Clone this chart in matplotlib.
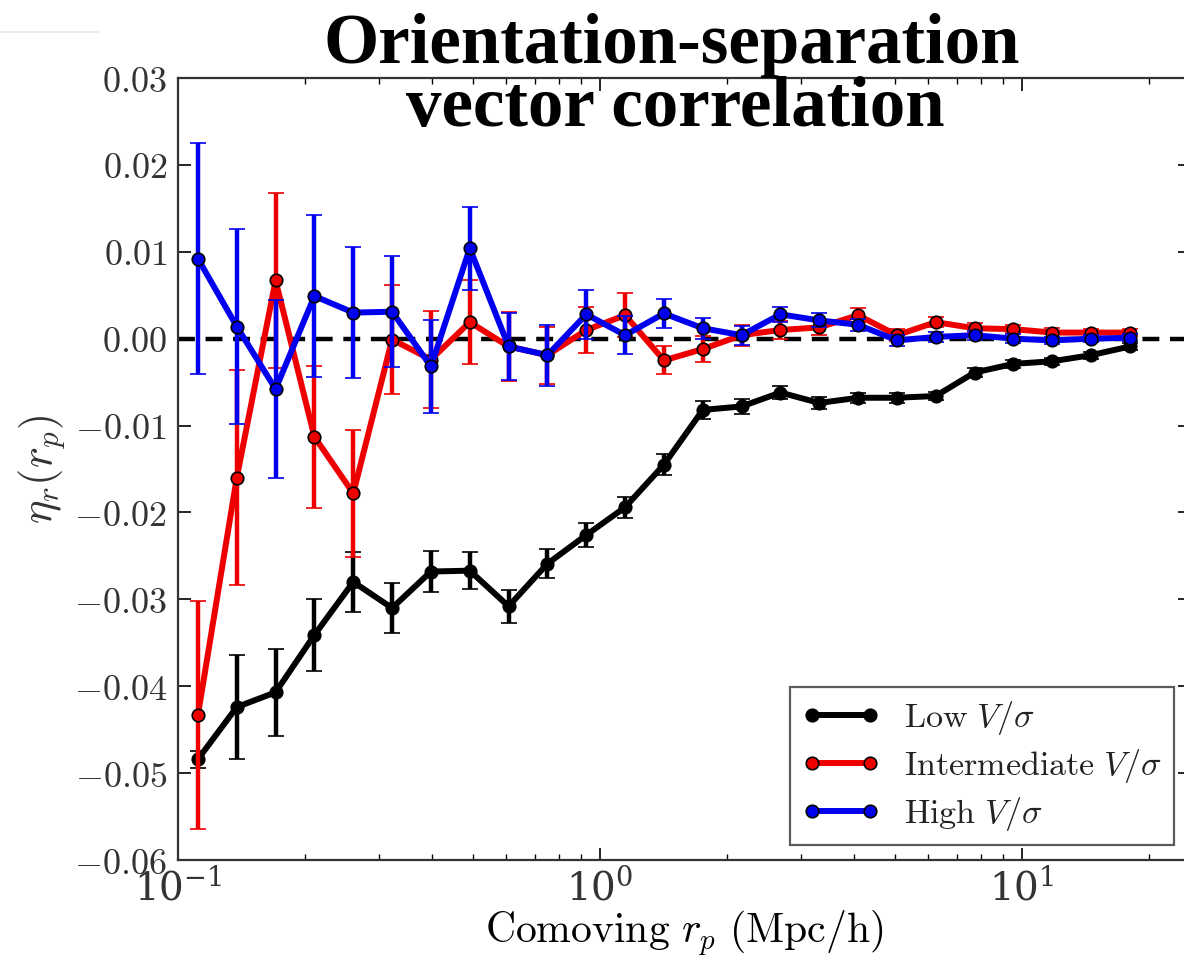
import matplotlib
matplotlib.use("Agg")
import matplotlib.pyplot as plt
from matplotlib.ticker import FuncFormatter, MultipleLocator
from matplotlib.lines import Line2D

plt.rcParams['mathtext.fontset'] = 'cm'
plt.rcParams['font.family'] = ['DejaVu Serif']

# ---------------- data ----------------
r_p = [0.1115, 0.1378, 0.1703, 0.2105, 0.2602, 0.3216, 0.3975, 0.4913, 0.6072,
       0.7505, 0.9278, 1.1467, 1.4173, 1.7518, 2.1652, 2.676, 3.307, 4.087,
       5.051, 6.243, 7.716, 9.537, 11.79, 14.57, 18.01]

low_eta = [-0.0484, -0.0424, -0.0407, -0.0341, -0.0280, -0.0310, -0.0268, -0.0267,
           -0.0308, -0.0259, -0.0226, -0.0194, -0.0145, -0.0082, -0.0078, -0.0062,
           -0.0074, -0.0068, -0.0068, -0.0066, -0.0039, -0.0029, -0.0026, -0.0019,
           -0.0009]
low_err = [0.0010, 0.0060, 0.0050, 0.0041, 0.0035, 0.0029, 0.0024, 0.0021, 0.0019,
           0.0017, 0.0014, 0.0012, 0.0012, 0.0010, 0.0009, 0.0008, 0.0007, 0.0006,
           0.0006, 0.0005, 0.0005, 0.0005, 0.0004, 0.0004, 0.0004]

int_eta = [-0.0433, -0.0160, 0.0067, -0.0113, -0.0178, -0.0001, -0.0024, 0.0019,
           -0.0009, -0.0019, 0.0010, 0.0027, -0.0025, -0.0012, 0.0004, 0.0010,
           0.0013, 0.0027, 0.0004, 0.0019, 0.0012, 0.0011, 0.0007, 0.0007, 0.0007]
int_err = [0.0131, 0.0124, 0.0101, 0.0082, 0.0073, 0.0063, 0.0056, 0.0048, 0.0040,
           0.0033, 0.0027, 0.0025, 0.0016, 0.0015, 0.0012, 0.0010, 0.0009, 0.0008,
           0.0007, 0.0006, 0.0006, 0.0005, 0.0005, 0.0004, 0.0004]

high_eta = [0.0092, 0.0014, -0.0058, 0.0049, 0.0030, 0.0031, -0.0032, 0.0104,
            -0.0009, -0.0019, 0.0028, 0.0004, 0.0029, 0.0012, 0.0004, 0.0028,
            0.0021, 0.0016, -0.0002, 0.0002, 0.0004, 0.0000, -0.0002, 0.0000, 0.0001]
high_err = [0.0133, 0.0112, 0.0102, 0.0093, 0.0075, 0.0064, 0.0054, 0.0048, 0.0039,
            0.0035, 0.0028, 0.0022, 0.0017, 0.0012, 0.0011, 0.0009, 0.0008, 0.0007,
            0.0006, 0.0006, 0.0005, 0.0005, 0.0004, 0.0004, 0.0004]

labels = [r'$\mathrm{Low}\ V/\sigma$', r'$\mathrm{Intermediate}\ V/\sigma$',
          r'$\mathrm{High}\ V/\sigma$']
colors = ['black', '#ee0000', '#0000ee']

title_lines = ["Orientation-separation", "vector correlation"]
xlabel = r'$\mathrm{Comoving}\ r_p\ \mathrm{(Mpc/h)}$'
ylabel = r'$\eta_r(r_p)$'

# ---------------- figure ----------------
W, H = 1184, 958
fig = plt.figure(figsize=(W / 100, H / 100), dpi=100)
ax = fig.add_axes([178 / W, 1 - 860 / H, 1012 / W, (860 - 78) / H])

ax.axhline(0, color='black', lw=3.2, ls=(0, (3.8, 2.4)), zorder=1)

series = [(low_eta, low_err), (int_eta, int_err), (high_eta, high_err)]
handles = []
for k, ((y, e), lab, c) in enumerate(zip(series, labels, colors)):
    mec = 'black' if k else c
    ax.errorbar(r_p, y, yerr=e, color=c, lw=4.3, marker='o', ms=9,
                mfc=c, mec=mec, mew=1.2,
                elinewidth=3.2, capsize=6, capthick=2.0, zorder=2 + k)
    handles.append(Line2D([], [], color=c, lw=4.3, marker='o', ms=9,
                          mfc=c, mec=mec, mew=1.2, label=lab))

ax.set_xscale('log')
ax.set_xlim(0.1, 25)
ax.set_ylim(-0.06, 0.03)
ax.yaxis.set_major_locator(MultipleLocator(0.01))

def yfmt(v, pos):
    s = '%.2f' % abs(v)
    if v < -1e-9:
        return r'$-' + s + '$'
    return r'$' + s + '$'

ax.yaxis.set_major_formatter(FuncFormatter(yfmt))

ax.tick_params(which='both', direction='in', top=True, right=True,
               labelsize=26, colors='black', labelcolor='#333333')
ax.tick_params(axis='x', labelsize=28)
ax.tick_params(which='major', length=9, width=1.2, pad=8)
ax.tick_params(axis='x', which='major', pad=6)
ax.tick_params(which='minor', length=4.5, width=1.0)
for sp in ax.spines.values():
    sp.set_linewidth(1.6)
    sp.set_color('#333333')

ax.set_xlabel(xlabel, fontsize=30, labelpad=0)
ax.set_ylabel(ylabel, fontsize=32, labelpad=4, color='#333333')

leg = ax.legend(handles=handles, loc='lower right', fontsize=24.5, frameon=True,
                fancybox=False, edgecolor='#333333', borderpad=0.35,
                borderaxespad=0.0, handlelength=2.3, handletextpad=0.7,
                numpoints=2, labelspacing=0.3,
                bbox_to_anchor=(0.984, 0.019))
leg.get_frame().set_linewidth(1.6)
for t in leg.get_texts():
    t.set_color('#222222')

fig.text(672 / W, 1 - 63 / H, title_lines[0], ha='center', va='baseline',
         fontsize=51, fontweight='bold', family='Liberation Serif')
fig.text(675 / W, 1 - 126 / H, title_lines[1], ha='center', va='baseline',
         fontsize=51, fontweight='bold', family='Liberation Serif')

fig.add_artist(Line2D([0, 98 / W], [1 - 32 / H, 1 - 32 / H], color='#e6e6e6', lw=1.2))

fig.savefig('out.png', dpi=100)
